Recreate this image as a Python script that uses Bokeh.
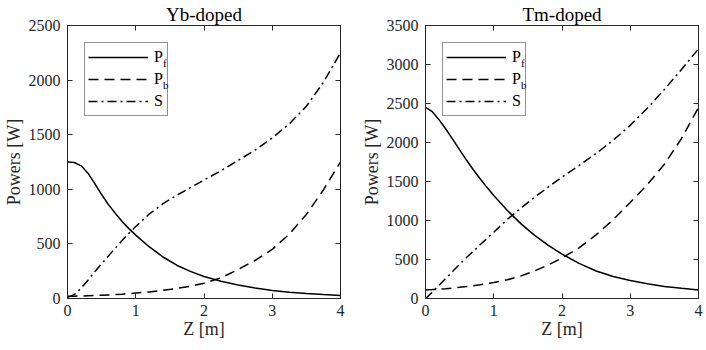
from bokeh.plotting import figure
from bokeh.layouts import row
from bokeh.models import (LinearAxis, Legend, LegendItem, Label, FixedTicker,
                          Range1d, CustomJSTickFormatter)
from bokeh.embed import file_html
from bokeh.resources import INLINE

# ---------------- data ----------------
z = [0, 0.1, 0.2, 0.3, 0.4, 0.5, 0.6, 0.7, 0.8, 0.9, 1.0, 1.2, 1.4, 1.6,
     1.8, 2.0, 2.25, 2.5, 2.75, 3.0, 3.25, 3.5, 3.75, 4.0]

yb_pf = [1250, 1245, 1215, 1148, 1052, 952, 860, 780, 705, 640, 580, 472,
         380, 305, 248, 202, 158, 124, 96, 74, 58, 46, 36, 27]
yb_pb = [20, 21, 23, 25, 27, 30, 33, 36, 40, 45, 50, 60, 75, 92, 113, 140,
         190, 265, 350, 450, 590, 770, 995, 1250]
yb_s = [10, 35, 95, 168, 245, 318, 390, 462, 532, 598, 660, 775, 868, 945,
        1015, 1085, 1170, 1265, 1360, 1470, 1600, 1760, 1980, 2250]

tm_pf = [2450, 2395, 2290, 2170, 2040, 1905, 1775, 1650, 1535, 1425, 1320,
         1128, 957, 810, 682, 570, 450, 352, 282, 230, 190, 155, 130, 110]
tm_pb = [110, 114, 119, 126, 134, 143, 153, 164, 176, 190, 205, 240, 290,
         355, 430, 520, 650, 815, 1010, 1230, 1460, 1720, 2050, 2450]
tm_s = [0, 80, 170, 260, 350, 440, 525, 605, 690, 770, 850, 1015, 1160,
        1300, 1430, 1555, 1705, 1860, 2030, 2220, 2440, 2680, 2935, 3200]

titles = ["Yb-doped", "Tm-doped"]
x_ticks = [0, 1, 2, 3, 4]
yb_ticks = [0, 500, 1000, 1500, 2000, 2500]
tm_ticks = [0, 500, 1000, 1500, 2000, 2500, 3000, 3500]
legend_labels = ["P", "P", "S"]
subscripts = ["f", "b"]
x_label = "Z [m]"
y_label = "Powers [W]"

# ---------------- styling ----------------
FONT = "Liberation Serif"
AXC = "#262626"
FW = 273
FH = 273
LEG_MARGIN = 17
LEG_PAD = 3
ROW_H = 22
GLYPH_W = 60
STANDOFF = 6


def style_axis(ax, ticks, labels=True):
    ax.ticker = FixedTicker(ticks=ticks)
    ax.axis_line_color = AXC
    ax.axis_line_width = 1
    ax.major_tick_line_color = AXC
    ax.major_tick_in = 5
    ax.major_tick_out = 0
    ax.minor_tick_line_color = None
    ax.major_label_text_font = FONT
    ax.major_label_text_font_size = "16px"
    ax.major_label_text_color = AXC
    if not labels:
        ax.formatter = CustomJSTickFormatter(code="return ''")
        ax.major_label_standoff = 0


def make(title, pf, pb, s, ymax, yticks, ml, mr):
    p = figure(frame_width=FW, frame_height=FH, output_backend="svg",
               toolbar_location=None, x_range=Range1d(0, 4),
               y_range=Range1d(0, ymax), min_border_left=ml,
               min_border_right=mr, min_border_top=0, min_border_bottom=0,
               background_fill_color="white", border_fill_color="white")
    p.title.text = title
    p.title.text_font = FONT
    p.title.text_font_size = "19px"
    p.title.text_font_style = "normal"
    p.title.text_color = "black"
    p.title.align = "center"
    p.title.standoff = 2
    p.grid.visible = False
    p.outline_line_color = None

    style_axis(p.xaxis[0], x_ticks)
    style_axis(p.yaxis[0], yticks)
    p.xaxis.major_label_standoff = 6
    p.yaxis.major_label_standoff = 7
    for ax in (p.xaxis[0], p.yaxis[0]):
        ax.axis_label_text_font = FONT
        ax.axis_label_text_font_size = "18px"
        ax.axis_label_text_font_style = "normal"
        ax.axis_label_text_color = AXC
    p.xaxis.axis_label = x_label
    p.xaxis.axis_label_standoff = 0
    p.yaxis.axis_label = y_label
    p.yaxis.axis_label_standoff = 2

    top = LinearAxis()
    style_axis(top, x_ticks, labels=False)
    p.add_layout(top, "above")
    right = LinearAxis()
    style_axis(right, yticks, labels=False)
    p.add_layout(right, "right")

    l1 = p.line(z, pf, line_color="black", line_width=1.5)
    l2 = p.line(z, pb, line_color="black", line_width=1.5, line_dash="10 6")
    l3 = p.line(z, s, line_color="black", line_width=1.5, line_dash="9 4 2 4")

    legend = Legend(items=[LegendItem(label=legend_labels[0], renderers=[l1]),
                           LegendItem(label=legend_labels[1], renderers=[l2]),
                           LegendItem(label=legend_labels[2], renderers=[l3])],
                    location="top_left", margin=LEG_MARGIN, padding=LEG_PAD,
                    spacing=0, glyph_width=GLYPH_W, glyph_height=ROW_H,
                    label_height=ROW_H, label_standoff=STANDOFF,
                    label_width=10,
                    label_text_font=FONT, label_text_font_size="16px",
                    label_text_color="black",
                    border_line_color=AXC, border_line_width=1,
                    background_fill_alpha=0)
    p.add_layout(legend)

    # subscripts of the legend labels, placed after the "P"
    sub_px = LEG_MARGIN + LEG_PAD + GLYPH_W + STANDOFF + 9.5
    for i, sub in enumerate(subscripts):
        py = LEG_MARGIN + LEG_PAD + ROW_H / 2 + ROW_H * i + 6
        p.add_layout(Label(x=sub_px / FW * 4, y=(FH - py) / FH * ymax,
                           text=sub, text_font=FONT, text_font_size="11px",
                           text_baseline="middle", text_align="left",
                           text_color="black"))
    return p


p1 = make(titles[0], yb_pf, yb_pb, yb_s, 2500, yb_ticks, 58, 18)
p2 = make(titles[1], tm_pf, tm_pb, tm_s, 3500, tm_ticks, 62, 6)

layout = row(p1, p2, spacing=0)
open("out.html", "w").write(file_html(layout, INLINE))
